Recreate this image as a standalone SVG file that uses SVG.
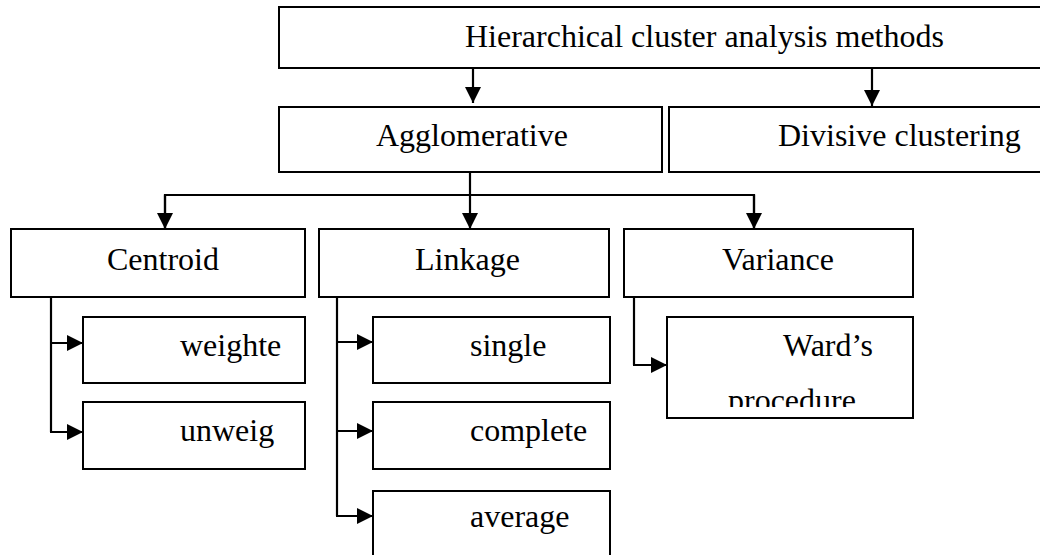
<svg xmlns="http://www.w3.org/2000/svg" width="1040" height="555" viewBox="0 0 1040 555">
  <style>
    .box { fill: #ffffff; stroke: #000000; stroke-width: 2; }
    .lbl { font-family: "Liberation Serif", "Times New Roman", serif; font-size: 32px; fill: #000000; }
    .wire { fill: none; stroke: #000000; stroke-width: 2.2; }
    .arrow { marker-end: url(#head); }
  </style>
  <defs>
    <marker id="head" markerUnits="userSpaceOnUse" markerWidth="16" markerHeight="16" refX="16" refY="8" orient="auto">
      <path d="M0,0 L16,8 L0,16 z" fill="#000000"/>
    </marker>
    <clipPath id="wardClip">
      <rect x="667" y="317" width="246" height="90"/>
    </clipPath>
  </defs>

  <rect x="0" y="0" width="1040" height="555" fill="#ffffff"/>

  <g id="connectors">
    <line class="wire arrow" x1="473" y1="68" x2="473" y2="103"/>
    <line class="wire arrow" x1="872" y1="68" x2="872" y2="106"/>
    <line class="wire arrow" x1="470" y1="172" x2="470" y2="229"/>
    <polyline class="wire" points="165,229 165,195 754,195 754,229"/>
    <line class="wire arrow" x1="165" y1="195" x2="165" y2="229"/>
    <line class="wire arrow" x1="754" y1="195" x2="754" y2="229"/>
    <!-- Centroid branches -->
    <polyline class="wire" points="51,297 51,432"/>
    <line class="wire arrow" x1="50" y1="343" x2="83" y2="343"/>
    <line class="wire arrow" x1="50" y1="432" x2="83" y2="432"/>
    <!-- Linkage branches -->
    <polyline class="wire" points="337,297 337,516"/>
    <line class="wire arrow" x1="336" y1="342" x2="373" y2="342"/>
    <line class="wire arrow" x1="336" y1="431" x2="373" y2="431"/>
    <line class="wire arrow" x1="336" y1="516" x2="373" y2="516"/>
    <!-- Variance branch -->
    <polyline class="wire" points="634,297 634,365"/>
    <line class="wire arrow" x1="633" y1="365" x2="667" y2="365"/>
  </g>

  <g id="node-root">
    <rect class="box" x="279" y="7" width="770" height="61"/>
    <text class="lbl" x="465" y="47">Hierarchical cluster analysis methods</text>
  </g>
  <g id="node-agglomerative">
    <rect class="box" x="279" y="107" width="383" height="65"/>
    <text class="lbl" x="376" y="146">Agglomerative</text>
  </g>
  <g id="node-divisive">
    <rect class="box" x="669" y="107" width="380" height="65"/>
    <text class="lbl" x="778" y="146">Divisive clustering</text>
  </g>
  <g id="node-centroid">
    <rect class="box" x="11" y="229" width="294" height="68"/>
    <text class="lbl" x="107" y="270">Centroid</text>
  </g>
  <g id="node-linkage">
    <rect class="box" x="319" y="229" width="290" height="68"/>
    <text class="lbl" x="415" y="270">Linkage</text>
  </g>
  <g id="node-variance">
    <rect class="box" x="624" y="229" width="289" height="68"/>
    <text class="lbl" x="722" y="270">Variance</text>
  </g>
  <g id="node-weighted">
    <rect class="box" x="83" y="317" width="222" height="66"/>
    <text class="lbl" x="180" y="356">weighte</text>
  </g>
  <g id="node-unweighted">
    <rect class="box" x="83" y="402" width="222" height="67"/>
    <text class="lbl" x="180" y="441">unweig</text>
  </g>
  <g id="node-single">
    <rect class="box" x="373" y="317" width="237" height="66"/>
    <text class="lbl" x="470" y="356">single</text>
  </g>
  <g id="node-complete">
    <rect class="box" x="373" y="402" width="237" height="67"/>
    <text class="lbl" x="470" y="441">complete</text>
  </g>
  <g id="node-average">
    <rect class="box" x="373" y="491" width="237" height="70"/>
    <text class="lbl" x="470" y="527">average</text>
  </g>
  <g id="node-ward">
    <rect class="box" x="667" y="317" width="246" height="101"/>
    <text class="lbl" x="783" y="356">Ward’s</text>
    <text class="lbl" x="728" y="411" clip-path="url(#wardClip)">procedure</text>
  </g>
</svg>
